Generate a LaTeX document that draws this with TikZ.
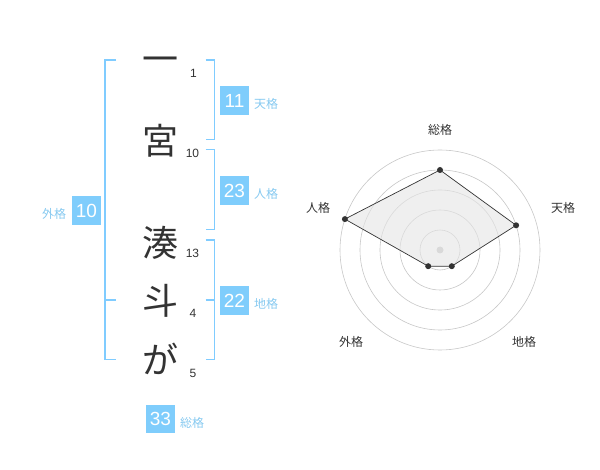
\documentclass[tikz,border=0pt]{standalone}
\usepackage{fontspec}
\setmainfont{Liberation Sans}
\newfontfamily\cjk{Noto Sans CJK JP}
\definecolor{brk}{HTML}{80CCFF}
\definecolor{boxc}{HTML}{7FCDFC}
\definecolor{lbl}{HTML}{86C9F0}
\definecolor{ink}{HTML}{333333}
\begin{document}
\begin{tikzpicture}[x=1pt,y=-1pt,
  bigch/.style={font=\cjk\fontsize{36}{36}\selectfont, text=ink, inner sep=0pt},
  strk/.style={font=\fontsize{12}{12}\selectfont, text=ink, inner sep=0pt},
  numbox/.style={fill=boxc, text=white, minimum width=28.5pt, minimum height=28.5pt, inner sep=0pt, font=\fontsize{19}{19}\selectfont},
  kaku/.style={font=\cjk\fontsize{12}{12}\selectfont, text=lbl, inner sep=0pt},
  bline/.style={draw=brk, line width=1.6pt},
  ring/.style={draw=black!22, line width=0.6pt},
  rlab/.style={font=\cjk\fontsize{12}{12}\selectfont, text=ink, inner sep=0pt},
  dot/.style={circle, fill=ink, inner sep=0pt, minimum size=6pt}]
\useasboundingbox (0,0) rectangle (600,470);
% characters
\node[bigch] (c1) at (160,65) {一};
\node[bigch] (c2) at (160,141) {宮};
\node[bigch] (c3) at (160,243) {湊};
\node[bigch] (c4) at (160,301) {斗};
\node[bigch] (c5) at (160,359) {が};
% stroke counts
\node[strk] (s1) at (193.5,73.5) {1};
\node[strk] (s2) at (192.5,153.5) {10};
\node[strk] (s3) at (192.5,253) {13};
\node[strk] (s4) at (193,313.5) {4};
\node[strk] (s5) at (193,373) {5};
% brackets
\draw[bline] (116,60) -- (105,60) -- (105,359.5) -- (116,359.5);
\draw[bline] (105,300) -- (116,300);
\draw[bline] (205.5,60) -- (214.5,60) -- (214.5,139.5) -- (205.5,139.5);
\draw[bline] (205.5,149.5) -- (214.5,149.5) -- (214.5,229.5) -- (205.5,229.5);
\draw[bline] (205.5,240) -- (214.5,240) -- (214.5,359.5) -- (205.5,359.5);
\draw[bline] (205.5,300) -- (214.5,300);
% boxes
\node[numbox] (ten) at (234.5,100.5) {11};
\node[kaku] (tenl) at (266,104) {天格};
\node[numbox] (jin) at (234.5,190.5) {23};
\node[kaku] (jinl) at (266,194) {人格};
\node[numbox] (chi) at (234.5,300.5) {22};
\node[kaku] (chil) at (266,304) {地格};
\node[numbox] (gai) at (86.5,210.5) {10};
\node[kaku] (gail) at (54,214) {外格};
\node[numbox] (sou) at (160.5,419) {33};
\node[kaku] (soul) at (192,422.5) {総格};
% radar
\coordinate (O) at (440,250);
\foreach \r in {20,40,60,80,100} \draw[ring] (O) circle (\r);
\fill[black!22] (O) circle (3.5);
\coordinate (pA) at (440,170);
\coordinate (pB) at (516.1,225.3);
\coordinate (pC) at (451.8,266.2);
\coordinate (pD) at (428.2,266.2);
\coordinate (pE) at (344.9,219.1);
\filldraw[fill=black!10, fill opacity=0.6, draw=ink, line width=0.7pt] (pA) -- (pB) -- (pC) -- (pD) -- (pE) -- cycle;
\foreach \p in {pA,pB,pC,pD,pE} \node[dot] at (\p) {};
\node[rlab] (lA) at (440,130) {総格};
\node[rlab] (lB) at (563,208) {天格};
\node[rlab] (lE) at (318,208) {人格};
\node[rlab] (lD) at (351,342) {外格};
\node[rlab] (lC) at (524,342) {地格};
\end{tikzpicture}
\end{document}
